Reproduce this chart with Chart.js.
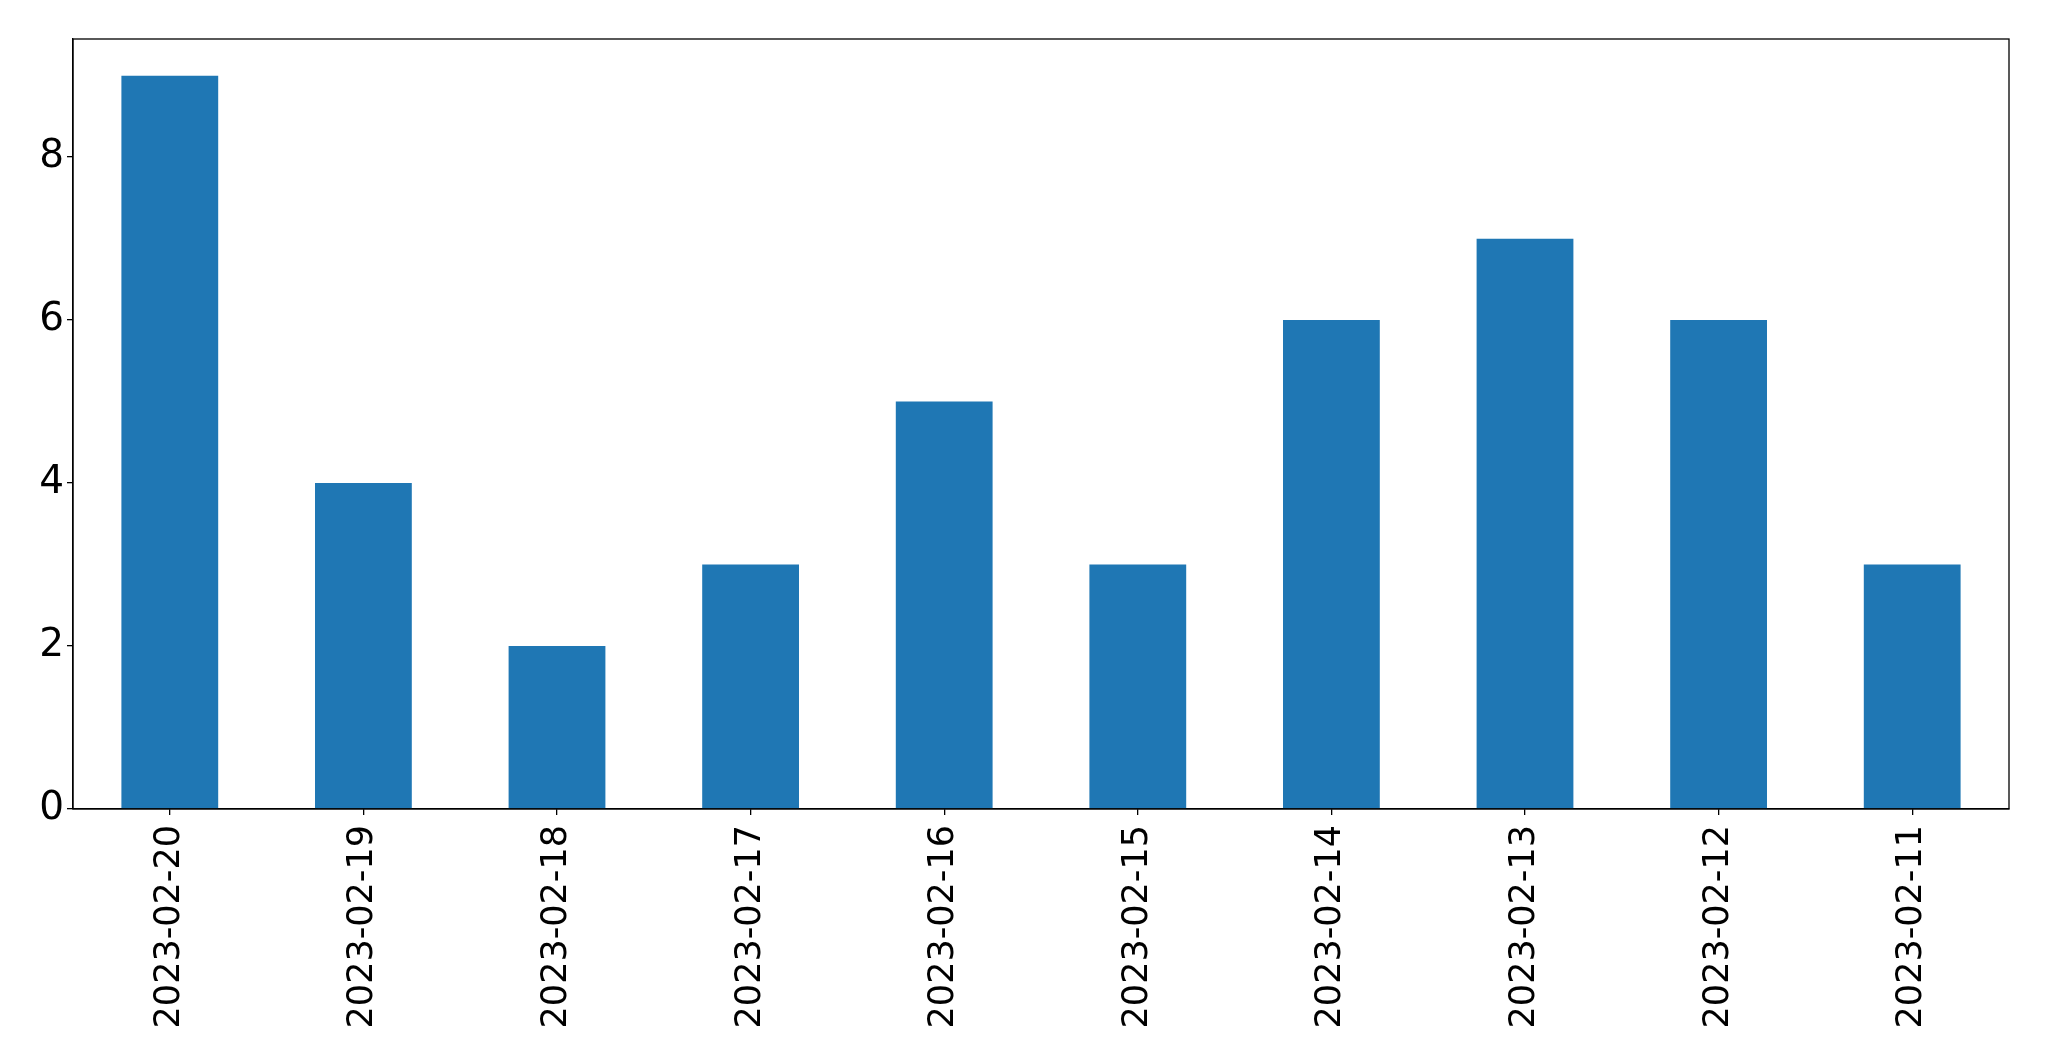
<!DOCTYPE html>
<html>
<head>
<meta charset="utf-8">
<script src="https://cdn.jsdelivr.net/npm/chart.js@4/dist/chart.umd.min.js"></script>
<style>
  html, body { margin: 0; padding: 0; background: #ffffff; }
</style>
</head>
<body>
<canvas id="myChart" width="2049" height="1061"></canvas>
<script>

const dates = [
    '2023-02-20', '2023-02-19', '2023-02-18', '2023-02-17', '2023-02-16',
    '2023-02-15', '2023-02-14', '2023-02-13', '2023-02-12', '2023-02-11'
];
const counts = [9, 4, 2, 3, 5, 3, 6, 7, 6, 3];
const yTicks = [0, 2, 4, 6, 8];

// box around the plot area, like matplotlib's spines
const frame = {
    id: 'frame',
    afterDraw(chart) {
        const { ctx, chartArea: a } = chart;
        ctx.save();
        ctx.strokeStyle = '#000000';
        ctx.lineWidth = 1.3;
        ctx.strokeRect(a.left, a.top, a.right - a.left, a.bottom - a.top);
        ctx.restore();
    }
};

const graph01 = document.getElementById('myChart').getContext('2d');

const myChart = new Chart(graph01, {
    type: 'bar',
    data: {
        labels: dates,
        datasets: [{
            data: counts,
            backgroundColor: '#1f77b4',
            borderWidth: 0,
            barPercentage: 0.5,
            categoryPercentage: 1.0
        }]
    },
    options: {
        responsive: false,
        animation: false,
        devicePixelRatio: 1,
        layout: {
            padding: { left: 0, top: 39, right: 40, bottom: 0 }
        },
        plugins: {
            legend: { display: false },
            tooltip: { enabled: false }
        },
        scales: {
            x: {
                grid: {
                    display: true,
                    offset: false,
                    drawOnChartArea: false,
                    drawTicks: true,
                    tickLength: 6,
                    color: '#000000',
                    lineWidth: 1.3
                },
                border: { display: true, color: '#000000', width: 1.3 },
                ticks: {
                    font: { family: 'DejaVu Sans', size: 35 },
                    color: '#000000',
                    minRotation: 90,
                    maxRotation: 90,
                    padding: 10,
                    autoSkip: false
                },
                afterFit(scale) { scale.height = 252; }
            },
            y: {
                min: 0,
                max: 9.45,
                grid: {
                    display: true,
                    drawOnChartArea: false,
                    drawTicks: true,
                    tickLength: 6,
                    color: '#000000',
                    lineWidth: 1.3
                },
                border: { display: true, color: '#000000', width: 1.3 },
                ticks: {
                    font: { family: 'DejaVu Sans', size: 39 },
                    color: '#000000',
                    stepSize: 2,
                    includeBounds: false,
                    padding: 3,
                    callback: (v) => yTicks.includes(v) ? String(v) : ''
                },
                afterFit(scale) { scale.width = 73; }
            }
        }
    },
    plugins: [frame]
});

</script>
</body>
</html>
